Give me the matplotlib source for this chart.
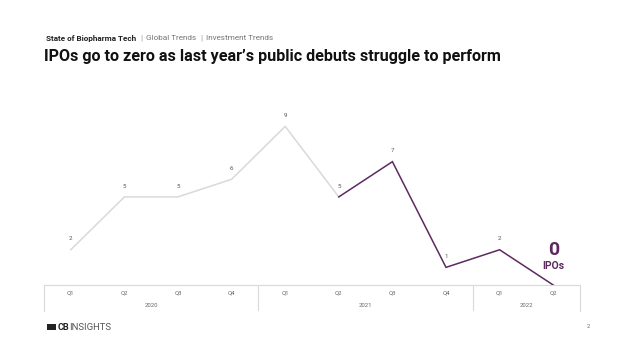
import matplotlib.pyplot as plt
from matplotlib.patches import Rectangle

plt.rcParams['font.family'] = ['Roboto', 'DejaVu Sans']

# data
quarters = ['Q1', 'Q2', 'Q3', 'Q4', 'Q1', 'Q2', 'Q3', 'Q4', 'Q1', 'Q2']
years = ['2020', '2021', '2022']
year_centers = [1.5, 5.5, 8.5]
year_dividers = [3.5, 7.5]
ipos = [2, 5, 5, 6, 9, 5, 7, 1, 2, 0]
split = 5  # purple from Q2 2021 on

gray = '#d9d9d9'
purple = '#5b2a5e'

W, H = 638, 359
fig = plt.figure(figsize=(W / 100, H / 100), dpi=100)

def box(x0, y0, x1, y1):
    # pixel box (top-left origin) -> figure fraction
    return [x0 / W, 1 - y1 / H, (x1 - x0) / W, (y1 - y0) / H]

x = list(range(len(ipos)))

ax = fig.add_axes(box(44, 100, 580, 285))
ax.plot(x[:split + 1], ipos[:split + 1], color=gray, lw=1.1, solid_joinstyle='miter')
ax.plot(x[split:], ipos[split:], color=purple, lw=1.1, solid_joinstyle='miter')
for xi, v in zip(x[:-1], ipos[:-1]):
    ax.annotate(str(v), (xi, v), xytext=(0, 6), textcoords='offset points',
                ha='center', va='bottom', fontsize=4.5, color='#555555')
ax.annotate('0', (x[-1], ipos[-1]), xytext=(0, 25), textcoords='offset points',
            ha='center', va='center', fontsize=14, fontweight='bold', color=purple)
ax.annotate('IPOs', (x[-1], ipos[-1]), xytext=(0, 13.5), textcoords='offset points',
            ha='center', va='center', fontsize=7.5, fontweight='bold', color=purple)
ax.set_xlim(-0.5, 9.5)
ax.set_ylim(0, 10.5)
ax.axis('off')

# category box under the chart
cax = fig.add_axes(box(44, 285, 580, 311))
cax.set_xlim(-0.5, 9.5)
cax.set_ylim(0, 1)
cax.set_xticks([])
cax.set_yticks([])
for s in ['left', 'right', 'top']:
    cax.spines[s].set_color('#d9d9d9')
    cax.spines[s].set_linewidth(0.8)
cax.spines['bottom'].set_visible(False)
for d in year_dividers:
    cax.axvline(d, color='#d9d9d9', lw=0.8)
for xi, q in zip(x, quarters):
    cax.text(xi, 0.7, q, ha='center', va='center', fontsize=4.3, color='#666666')
for xc, yr in zip(year_centers, years):
    cax.text(xc, 0.23, yr, ha='center', va='center', fontsize=4.3, color='#666666')
cax.patch.set_alpha(0)

# titles
fig.text(46 / W, 1 - 38 / H, 'State of Biopharma Tech', fontsize=5.9, fontweight='bold',
         color='#222222', va='center')
fig.text(141 / W, 1 - 38 / H, '|', fontsize=5.9, color='#999999', va='center', ha='center')
fig.text(146 / W, 1 - 38 / H, 'Global Trends', fontsize=5.9, color='#777777', va='center')
fig.text(201 / W, 1 - 38 / H, '|', fontsize=5.9, color='#999999', va='center', ha='center')
fig.text(206 / W, 1 - 38 / H, 'Investment Trends', fontsize=5.9, color='#777777', va='center')
fig.text(44 / W, 1 - 57 / H, 'IPOs go to zero as last year\u2019s public debuts struggle to perform',
         fontsize=11.6, fontweight='bold', color='#111111', va='center')

# footer
fig.patches.append(Rectangle((47 / W, 1 - 330 / H), 9 / W, 6 / H, transform=fig.transFigure,
                             facecolor='#222222', edgecolor='none'))
fig.text(57.5 / W, 1 - 327 / H, 'CB', fontsize=6.5, fontweight='bold', color='#222222', va='center')
fig.text(69.5 / W, 1 - 327 / H, 'INSIGHTS', fontsize=6.8, color='#555555', va='center')
fig.text(588 / W, 1 - 327 / H, '2', fontsize=4, color='#666666', va='center', ha='center')

fig.savefig('out.png', dpi=100, facecolor='white')
